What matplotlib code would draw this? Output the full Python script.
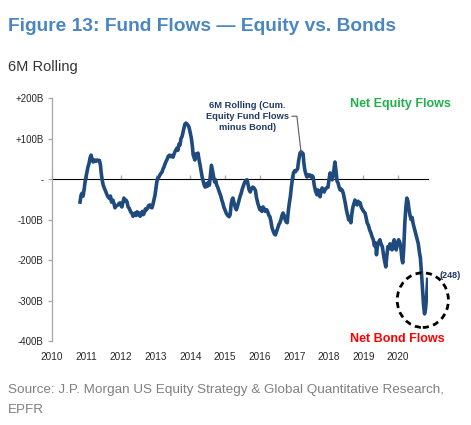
import matplotlib
matplotlib.use("Agg")
import matplotlib.pyplot as plt
from matplotlib.patches import Ellipse

plt.rcParams["font.family"] = ["Liberation Sans", "DejaVu Sans"]

# 6M rolling cumulative equity fund flows minus bond fund flows ($B), weekly-ish
years = [
    2010.81, 2010.84, 2010.87, 2010.90, 2010.93, 2010.96, 2011.01, 2011.04, 2011.07, 2011.10,
    2011.13, 2011.16, 2011.19, 2011.23, 2011.27, 2011.30, 2011.34, 2011.37, 2011.40, 2011.42,
    2011.45, 2011.48, 2011.51, 2011.55, 2011.59, 2011.62, 2011.66, 2011.69, 2011.72, 2011.76,
    2011.79, 2011.82, 2011.86, 2011.91, 2011.94, 2011.97, 2012.00, 2012.02, 2012.05, 2012.08,
    2012.11, 2012.14, 2012.17, 2012.20, 2012.23, 2012.25, 2012.28, 2012.31, 2012.34, 2012.37,
    2012.40, 2012.43, 2012.46, 2012.49, 2012.52, 2012.55, 2012.58, 2012.61, 2012.64, 2012.67,
    2012.70, 2012.73, 2012.76, 2012.79, 2012.83, 2012.86, 2012.89, 2012.92, 2012.95, 2012.98,
    2013.01, 2013.03, 2013.06, 2013.09, 2013.12, 2013.15, 2013.18, 2013.21, 2013.24, 2013.27,
    2013.30, 2013.32, 2013.36, 2013.40, 2013.43, 2013.47, 2013.50, 2013.53, 2013.57, 2013.61,
    2013.64, 2013.67, 2013.70, 2013.73, 2013.76, 2013.80, 2013.84, 2013.87, 2013.90, 2013.94,
    2013.97, 2014.00, 2014.03, 2014.06, 2014.08, 2014.11, 2014.13, 2014.16, 2014.19, 2014.22,
    2014.25, 2014.28, 2014.31, 2014.34, 2014.37, 2014.40, 2014.43, 2014.46, 2014.49, 2014.52,
    2014.55, 2014.58, 2014.61, 2014.64, 2014.67, 2014.70, 2014.73, 2014.76, 2014.79, 2014.82,
    2014.85, 2014.88, 2014.91, 2014.94, 2014.97, 2015.00, 2015.04, 2015.08, 2015.12, 2015.15,
    2015.18, 2015.21, 2015.23, 2015.26, 2015.30, 2015.33, 2015.36, 2015.40, 2015.44, 2015.47,
    2015.50, 2015.54, 2015.57, 2015.61, 2015.64, 2015.67, 2015.70, 2015.73, 2015.76, 2015.80,
    2015.84, 2015.88, 2015.91, 2015.95, 2015.98, 2016.01, 2016.04, 2016.07, 2016.10, 2016.14,
    2016.17, 2016.21, 2016.24, 2016.27, 2016.30, 2016.33, 2016.36, 2016.40, 2016.43, 2016.46,
    2016.49, 2016.52, 2016.56, 2016.59, 2016.62, 2016.65, 2016.68, 2016.71, 2016.74, 2016.77,
    2016.80, 2016.83, 2016.86, 2016.89, 2016.92, 2016.95, 2016.98, 2017.01, 2017.04, 2017.07,
    2017.10, 2017.13, 2017.17, 2017.20, 2017.23, 2017.26, 2017.28, 2017.31, 2017.34, 2017.37,
    2017.40, 2017.43, 2017.46, 2017.49, 2017.52, 2017.55, 2017.58, 2017.62, 2017.66, 2017.69,
    2017.72, 2017.75, 2017.78, 2017.81, 2017.84, 2017.87, 2017.90, 2017.94, 2017.98, 2018.01,
    2018.04, 2018.07, 2018.10, 2018.13, 2018.16, 2018.18, 2018.21, 2018.24, 2018.27, 2018.30,
    2018.33, 2018.36, 2018.39, 2018.42, 2018.45, 2018.48, 2018.51, 2018.55, 2018.58, 2018.61,
    2018.64, 2018.67, 2018.70, 2018.73, 2018.76, 2018.79, 2018.82, 2018.85, 2018.88, 2018.91,
    2018.94, 2018.98, 2019.01, 2019.05, 2019.08, 2019.11, 2019.15, 2019.18, 2019.22, 2019.25,
    2019.29, 2019.32, 2019.36, 2019.38, 2019.41, 2019.45, 2019.48, 2019.51, 2019.55, 2019.58,
    2019.61, 2019.65, 2019.68, 2019.71, 2019.74, 2019.77, 2019.80, 2019.83, 2019.86, 2019.89,
    2019.92, 2019.95, 2019.98, 2020.02, 2020.06, 2020.09, 2020.12, 2020.14, 2020.17, 2020.20,
    2020.23, 2020.26, 2020.29, 2020.32, 2020.35, 2020.38, 2020.41, 2020.44, 2020.47, 2020.50,
    2020.53, 2020.56, 2020.59, 2020.62, 2020.65, 2020.68, 2020.71, 2020.74, 2020.77, 2020.80,
    2020.83, 2020.86,
]
flows = [
    -57, -40, -35, -42, -25, -5, 17, 30, 38, 52,
    59, 48, 42, 47, 44, 47, 45, 46, 35, 17,
    -2, -15, -22, -30, -39, -44, -48, -42, -57, -52,
    -60, -71, -66, -64, -60, -59, -66, -69, -58, -47,
    -55, -52, -57, -69, -72, -76, -82, -84, -92, -89,
    -84, -90, -81, -88, -84, -92, -86, -80, -88, -83,
    -74, -76, -72, -66, -64, -70, -71, -62, -50, -39,
    -20, -7, 2, 5, 10, 14, 17, 25, 30, 38,
    44, 47, 56, 59, 55, 58, 54, 62, 70, 76,
    71, 86, 84, 100, 105, 120, 135, 138, 136, 132,
    125, 112, 100, 80, 60, 52, 47, 62, 58, 64,
    48, 35, 20, 5, -5, -15, -20, -12, -18, -8,
    -15, 10, 34, 20, 5, -7, -2, -15, -20, -28,
    -35, -42, -52, -60, -70, -76, -85, -90, -93, -88,
    -62, -50, -47, -58, -70, -76, -68, -55, -42, -35,
    -25, -15, -8, -3, -2, -15, -27, -32, -25, -20,
    -22, -28, -45, -60, -68, -76, -72, -80, -69, -74,
    -80, -76, -82, -90, -93, -105, -120, -130, -136, -138,
    -130, -122, -112, -108, -100, -90, -84, -90, -100, -106,
    -108, -80, -60, -44, -20, 0, 15, 20, 18, 22,
    25, 45, 64, 67, 65, 62, 40, 22, 12, 5,
    10, 8, 10, 5, 8, 5, -15, -30, -39, -27,
    -35, -44, -30, -22, -28, -32, -25, -22, -20, 0,
    15, 5, -2, 10, 30, 42, 20, -5, -10, -20,
    -27, -25, -28, -35, -47, -60, -76, -90, -101, -95,
    -108, -85, -69, -60, -52, -58, -64, -55, -60, -59,
    -70, -76, -80, -84, -95, -108, -115, -125, -133, -142,
    -150, -165, -158, -187, -165, -155, -150, -160, -167, -185,
    -200, -217, -190, -167, -172, -160, -170, -175, -160, -150,
    -165, -175, -160, -150, -158, -175, -200, -207, -170, -108,
    -70, -47, -55, -75, -90, -100, -95, -110, -120, -130,
    -140, -150, -160, -180, -195, -230, -270, -310, -333, -320,
    -290, -248,
]

x_ticks = list(range(2010, 2021))
y_ticks = [-400, -300, -200, -100, 0, 100, 200]
y_labels = ["-400B", "-300B", "-200B", "-100B", "-", "+100B", "+200B"]

GRAY = "#a6a6a6"
LINE = "#1f4a7e"

fig = plt.figure(figsize=(4.71, 4.25), dpi=100)
ax = fig.add_axes([0.1104, 0.1976, 0.7983, 0.5718])

ax.plot(years, flows, color=LINE, lw=2.6, solid_joinstyle="round", zorder=3)

ax.set_xlim(2010, 2020.87)
ax.set_ylim(-400, 200)

# y axis: gray spine, outward ticks
for s in ["top", "right", "bottom"]:
    ax.spines[s].set_visible(False)
ax.spines["left"].set_color(GRAY)
ax.spines["left"].set_linewidth(0.9)
ax.set_yticks(y_ticks)
ax.set_yticklabels(y_labels)
ax.tick_params(axis="y", direction="out", length=3, width=0.9, color=GRAY,
               labelsize=7, labelcolor="#262626", pad=3)

# year labels at the bottom, no tick marks
ax.set_xticks(x_ticks)
ax.set_xticklabels([str(y) for y in x_ticks])
ax.tick_params(axis="x", length=0, labelsize=7.2, labelcolor="#262626", pad=8)

# zero line with small ticks
zero = ax.secondary_xaxis(2 / 3)
zero.set_xticks(x_ticks)
zero.set_xticklabels([])
zero.spines["bottom"].set_color(GRAY)
zero.spines["bottom"].set_linewidth(1.0)
zero.tick_params(direction="out", length=3, width=0.9, color=GRAY)

# annotations
ax.text(2015.64, 155, "6M Rolling (Cum.\nEquity Fund Flows\nminus Bond)", ha="center", va="center",
        fontsize=6.7, fontweight="bold", color="#1f3864", linespacing=1.3)
ax.plot([2016.94, 2017.08, 2017.20], [155, 155, 66], color="#595959", lw=0.8, zorder=4)

ax.text(2020.06, 185, "Net Equity Flows", ha="center", va="center",
        fontsize=9, fontweight="bold", color="#22b04b")
ax.text(2019.97, -394, "Net Bond Flows", ha="center", va="center",
        fontsize=9, fontweight="bold", color="#ff0000", clip_on=False)
ax.text(2021.50, -239, "(248)", ha="center", va="center",
        fontsize=6.5, fontweight="bold", color="#1f3864", clip_on=False)

circ = Ellipse((2020.72, -299), width=1.48, height=135, fill=False, edgecolor="black",
               lw=2, linestyle=(0, (2.2, 1.6)), clip_on=False, zorder=5)
ax.add_patch(circ)

# header / footer
fig.text(0.017, 1 - 31 / 425, "Figure 13: Fund Flows \u2014 Equity vs. Bonds", ha="left", va="baseline",
         fontsize=13.8, fontweight="bold", color="#4a86c1")
fig.text(0.017, 1 - 71 / 425, "6M Rolling", ha="left", va="baseline", fontsize=10.5, color="#333333")
fig.text(0.017, 1 - 393 / 425, "Source: J.P. Morgan US Equity Strategy & Global Quantitative Research,",
         ha="left", va="baseline", fontsize=9.7, color="#808080")
fig.text(0.017, 1 - 413 / 425, "EPFR", ha="left", va="baseline", fontsize=9.7, color="#808080")

fig.savefig("out.png", dpi=100)
